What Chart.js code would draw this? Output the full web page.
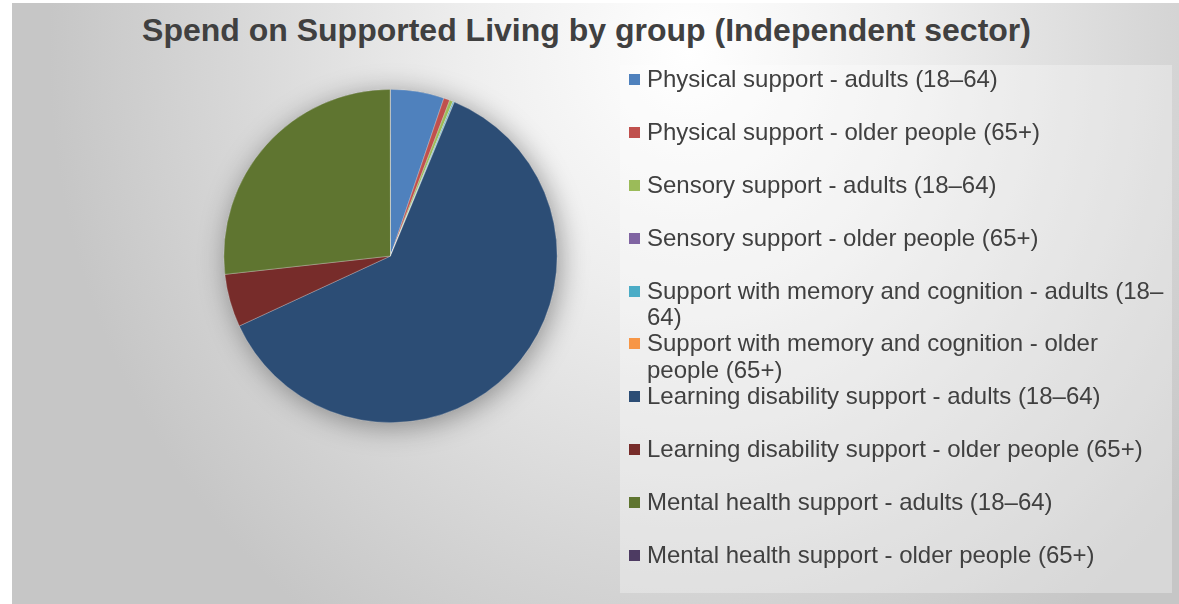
<!DOCTYPE html>
<html>
<head>
<meta charset="utf-8">
<script src="https://cdn.jsdelivr.net/npm/chart.js"></script>
<style>
  html, body { margin: 0; padding: 0; background: #fff; }
  #wrap { position: relative; width: 1179px; height: 604px; overflow: hidden; }
  #bg { position: absolute; left: 12px; top: 3px; right: 0; bottom: 0;
        background: radial-gradient(ellipse 640px 700px at 58% 8%, #ffffff 0%, #eeeeee 35%, #d8d8d8 70%, #c6c6c6 100%); }
  #title { position: absolute; left: 0; top: 14px; width: 1173px; text-align: center;
           font: bold 32px "Liberation Sans", Arial, sans-serif; line-height: 32px; color: #404040; }
  #legendBox { position: absolute; left: 620px; top: 65px; width: 552px; height: 528px;
               background: rgba(255,255,255,0.3); }
  #legend { position: absolute; left: 629px; top: 66px; margin: 0; padding: 0; list-style: none;
            font: 24px "Liberation Sans", Arial, sans-serif; color: #404040; }
  #legend li { position: relative; height: 52.9px; line-height: 26.45px; padding-left: 18px; width: 522px; }
  #legend li span { position: absolute; left: 0; top: 8px; width: 11px; height: 11px; }
  #chart { position: absolute; left: 0; top: 0; }
</style>
</head>
<body>
<div id="wrap">
  <div id="bg"></div>
  <div id="legendBox"></div>
  <div id="title">Spend on Supported Living by group (Independent sector)</div>
  <canvas id="chart" width="1179" height="604"></canvas>
  <ul id="legend"></ul>
</div>
<script>
// groups, in drawing order (clockwise from 12 o'clock)
const groups = [
  'Physical support - adults (18–64)',
  'Physical support - older people (65+)',
  'Sensory support - adults (18–64)',
  'Sensory support - older people (65+)',
  'Support with memory and cognition - adults (18–64)',
  'Support with memory and cognition - older people (65+)',
  'Learning disability support - adults (18–64)',
  'Learning disability support - older people (65+)',
  'Mental health support - adults (18–64)',
  'Mental health support - older people (65+)'
];
// share of spend, %
const spend = [5.19, 0.59, 0.34, 0.01, 0.12, 0.01, 61.84, 5.14, 26.74, 0.02];
const colours = ['#4F81BD', '#C0504D', '#9BBB59', '#8064A2', '#4BACC6',
                 '#F79646', '#2C4D75', '#772C2A', '#5F7530', '#4D3B62'];

// soft drop shadow under the whole pie
const pieShadow = {
  id: 'pieShadow',
  beforeDatasetsDraw(chart) {
    const arc = chart.getDatasetMeta(0).data[0];
    if (!arc) return;
    const ctx = chart.ctx;
    ctx.save();
    ctx.shadowColor = 'rgba(0,0,0,0.38)';
    ctx.shadowBlur = 28;
    ctx.shadowOffsetX = 3;
    ctx.shadowOffsetY = 4;
    ctx.fillStyle = '#777';
    ctx.beginPath();
    ctx.arc(arc.x, arc.y, arc.outerRadius, 0, Math.PI * 2);
    ctx.fill();
    ctx.restore();
  }
};

const chart = new Chart(document.getElementById('chart'), {
  type: 'pie',
  data: {
    labels: groups,
    datasets: [{
      data: spend,
      backgroundColor: colours,
      borderColor: 'rgba(255,255,255,0.35)',
      borderWidth: 0.75
    }]
  },
  options: {
    responsive: false,
    animation: false,
    layout: { padding: { left: 223, top: 89, right: 621, bottom: 181 } },
    plugins: {
      legend: { display: false },
      tooltip: { enabled: false }
    }
  },
  plugins: [pieShadow]
});

// legend built from the chart's data
const ul = document.getElementById('legend');
chart.data.labels.forEach((lab, i) => {
  const li = document.createElement('li');
  const sw = document.createElement('span');
  sw.style.background = chart.data.datasets[0].backgroundColor[i];
  li.appendChild(sw);
  li.appendChild(document.createTextNode(lab));
  ul.appendChild(li);
});
</script>
</body>
</html>
